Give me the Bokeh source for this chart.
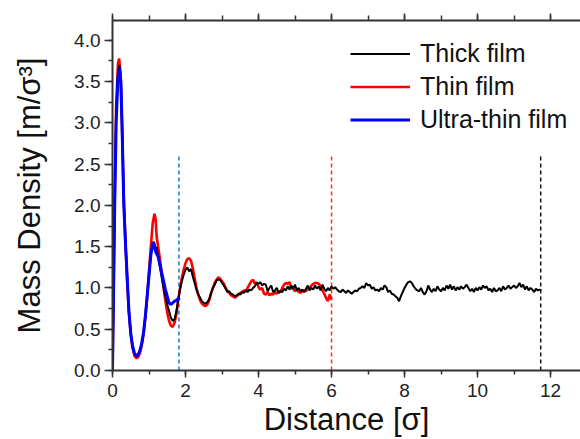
from bokeh.plotting import figure
from bokeh.models import (Range1d, LinearAxis, SingleIntervalTicker, NumeralTickFormatter,
                          Legend, LegendItem, CustomLabelingPolicy)
from bokeh.embed import file_html
from bokeh.resources import INLINE

# ---------------- data ----------------
ultra_x = [0.00, 0.03, 0.06, 0.10, 0.15, 0.19, 0.23, 0.27, 0.31, 0.36, 0.41, 0.45, 0.50, 0.55,
           0.60, 0.65, 0.70, 0.75, 0.80, 0.85, 0.90, 0.95, 1.00, 1.05, 1.10, 1.13, 1.17, 1.20,
           1.25, 1.30, 1.35, 1.40, 1.45, 1.50, 1.55, 1.60, 1.65, 1.70, 1.75, 1.80, 1.85]
ultra_y = [0.0, 1.0, 2.0, 3.0, 3.55, 3.66, 3.5, 2.8, 2.0, 1.5, 1.06, 0.72, 0.45, 0.3,
           0.21, 0.18, 0.19, 0.24, 0.33, 0.46, 0.66, 0.9, 1.15, 1.4, 1.53, 1.55, 1.46, 1.42,
           1.38, 1.28, 1.18, 1.08, 0.98, 0.9, 0.82, 0.80, 0.82, 0.84, 0.85, 0.87, 0.88]

thin_x = [0.00, 0.03, 0.06, 0.10, 0.15, 0.18, 0.22, 0.26, 0.30, 0.35, 0.40, 0.45, 0.50, 0.55,
          0.60, 0.65, 0.70, 0.75, 0.80, 0.85, 0.90, 0.95, 1.00, 1.05, 1.10, 1.15, 1.18, 1.21,
          1.25, 1.30, 1.35, 1.40, 1.45, 1.50, 1.55, 1.60, 1.65, 1.70, 1.75, 1.80, 1.85, 1.90,
          1.95, 2.00, 2.05, 2.10, 2.15, 2.20, 2.25, 2.30, 2.35, 2.40, 2.45, 2.50, 2.55, 2.60,
          2.65, 2.70, 2.75, 2.80, 2.85, 2.90, 2.95, 3.00, 3.05, 3.10, 3.15, 3.20, 3.25, 3.30,
          3.35, 3.40, 3.45, 3.50, 3.55, 3.60, 3.65, 3.70, 3.75, 3.80, 3.85, 3.90, 3.95, 4.00,
          4.05, 4.10, 4.15, 4.20, 4.25, 4.30, 4.35, 4.40, 4.45, 4.50, 4.55, 4.60, 4.65, 4.70,
          4.75, 4.80, 4.85, 4.90, 4.95, 5.00, 5.05, 5.10, 5.15, 5.20, 5.25, 5.30, 5.35, 5.40,
          5.45, 5.50, 5.55, 5.60, 5.65, 5.70, 5.75, 5.80, 5.85, 5.90, 5.95, 6.00]
thin_y = [0.0, 1.0, 2.1, 3.2, 3.72, 3.78, 3.6, 3.0, 2.2, 1.6, 1.1, 0.7, 0.43, 0.27,
          0.18, 0.15, 0.16, 0.21, 0.3, 0.44, 0.64, 0.9, 1.2, 1.5, 1.78, 1.9, 1.84, 1.62,
          1.5, 1.35, 1.18, 1.0, 0.84, 0.7, 0.6, 0.54, 0.53, 0.58, 0.68, 0.85, 1.0, 1.12,
          1.22, 1.3, 1.35, 1.36, 1.33, 1.24, 1.12, 1.0, 0.92, 0.85, 0.81, 0.79, 0.78, 0.8,
          0.85, 0.93, 1.0, 1.06, 1.1, 1.13, 1.11, 1.08, 1.05, 1.0, 0.96, 0.94, 0.91, 0.9,
          0.88, 0.9, 0.92, 0.94, 0.95, 0.97, 0.96, 1.0, 1.04, 1.08, 1.1, 1.05, 1.07, 1.01,
          0.98, 1.0, 0.93, 0.92, 0.95, 0.91, 0.93, 0.92, 0.95, 0.93, 0.96, 0.95, 1.0, 1.04,
          1.06, 1.05, 1.07, 1.0, 0.99, 0.96, 0.98, 0.95, 0.94, 0.96, 0.97, 0.96, 0.99, 1.0,
          1.03, 1.05, 1.06, 1.06, 1.05, 1.02, 0.97, 0.93, 0.88, 0.84, 0.92, 0.86]

thick_x = [0.00, 0.03, 0.06, 0.10, 0.15, 0.19, 0.23, 0.27, 0.31, 0.36, 0.41, 0.45, 0.50, 0.55,
           0.60, 0.65, 0.70, 0.75, 0.80, 0.85, 0.90, 0.95, 1.00, 1.05, 1.10, 1.13, 1.17, 1.20,
           1.25, 1.30, 1.35, 1.40, 1.45, 1.50, 1.55, 1.60, 1.65, 1.70, 1.75, 1.80, 1.85, 1.90,
           1.95, 2.00, 2.05, 2.10, 2.15, 2.20, 2.25, 2.30, 2.35, 2.40, 2.45, 2.50, 2.55, 2.60,
           2.65, 2.70, 2.75, 2.80, 2.85, 2.90, 2.95, 3.00, 3.05, 3.10, 3.15, 3.20, 3.25, 3.30,
           3.35, 3.40, 3.45, 3.50, 3.55, 3.60, 3.65, 3.70, 3.75, 3.80, 3.85, 3.90, 3.95, 4.00,
           4.05, 4.10, 4.15, 4.20, 4.25, 4.30, 4.35, 4.40, 4.45, 4.50, 4.55, 4.60, 4.65, 4.70,
           4.75, 4.80, 4.85, 4.90, 4.95, 5.00, 5.05, 5.10, 5.15, 5.20, 5.25, 5.30, 5.35, 5.40,
           5.45, 5.50, 5.55, 5.60, 5.65, 5.70, 5.75, 5.80, 5.85, 5.90, 5.95, 6.00, 6.05, 6.10,
           6.15, 6.20, 6.25, 6.30, 6.35, 6.40, 6.45, 6.50, 6.55, 6.60, 6.65, 6.70, 6.75, 6.80,
           6.85, 6.90, 6.95, 7.00, 7.05, 7.10, 7.15, 7.20, 7.25, 7.30, 7.35, 7.40, 7.45, 7.50,
           7.55, 7.60, 7.65, 7.70, 7.75, 7.80, 7.85, 7.90, 7.95, 8.00, 8.05, 8.10, 8.15, 8.20,
           8.25, 8.30, 8.35, 8.40, 8.45, 8.50, 8.55, 8.60, 8.65, 8.70, 8.75, 8.80, 8.85, 8.90,
           8.95, 9.00, 9.05, 9.10, 9.15, 9.20, 9.25, 9.30, 9.35, 9.40, 9.45, 9.50, 9.55, 9.60,
           9.65, 9.70, 9.75, 9.80, 9.85, 9.90, 9.95, 10.00, 10.05, 10.10, 10.15, 10.20, 10.25,
           10.30, 10.35, 10.40, 10.45, 10.50, 10.55, 10.60, 10.65, 10.70, 10.75, 10.80, 10.85,
           10.90, 10.95, 11.00, 11.05, 11.10, 11.15, 11.20, 11.25, 11.30, 11.35, 11.40, 11.45,
           11.50, 11.55, 11.60, 11.65, 11.70, 11.75]
thick_y = [0.0, 1.0, 2.05, 3.1, 3.62, 3.70, 3.52, 2.85, 2.05, 1.52, 1.07, 0.72, 0.45, 0.29,
           0.2, 0.17, 0.18, 0.23, 0.32, 0.45, 0.65, 0.9, 1.15, 1.4, 1.54, 1.56, 1.48, 1.5,
           1.38, 1.25, 1.12, 1.0, 0.9, 0.8, 0.72, 0.64, 0.6, 0.62, 0.72, 0.86, 0.98, 1.08,
           1.16, 1.22, 1.25, 1.2, 1.23, 1.14, 1.06, 0.98, 0.92, 0.88, 0.84, 0.82, 0.81, 0.83,
           0.87, 0.94, 1.0, 1.04, 1.09, 1.1, 1.1, 1.06, 1.03, 0.99, 0.95, 0.96, 0.93, 0.92,
           0.9, 0.91, 0.93, 0.92, 0.95, 0.94, 0.97, 0.95, 0.98, 0.97, 1.0, 1.02, 1.06, 1.05,
           1.07, 1.03, 1.05, 1.04, 0.96, 1.0, 1.03, 0.95, 0.97, 1.0, 0.94, 0.96, 0.95, 0.99,
           0.97, 1.02, 0.98, 1.03, 0.99, 1.04, 0.97, 1.0, 0.96, 0.98, 0.95, 0.99, 1.03, 0.97,
           1.0, 0.98, 1.03, 0.99, 1.02, 0.97, 1.04, 0.99, 0.96, 1.0, 0.97, 1.02, 0.99, 1.01,
           0.98, 0.96, 0.95, 0.98, 0.96, 0.94, 0.97, 0.95, 0.93, 0.95, 0.97, 0.96, 0.99, 1.0,
           1.02, 1.0, 1.06, 1.03, 1.04, 0.99, 1.01, 0.97, 0.98, 0.96, 1.0, 0.98, 1.03, 1.01,
           0.95, 0.97, 0.93, 0.92, 0.9, 0.88, 0.84, 0.9, 0.95, 1.0, 1.04, 1.07, 1.08, 1.06,
           1.02, 0.99, 0.97, 0.96, 1.0, 0.95, 0.92, 0.96, 1.03, 0.98, 0.95, 0.99, 0.96, 1.02,
           0.98, 0.96, 1.0, 0.97, 1.03, 0.99, 1.04, 0.98, 1.02, 0.97, 1.01, 0.98, 1.02, 0.99,
           1.01, 1.04, 1.0, 0.96, 0.99, 0.95, 1.0, 0.97, 1.01, 0.98, 1.03, 1.0, 1.02,
           0.97, 0.99, 0.95, 1.0, 0.96, 0.97, 1.0, 0.96, 1.02, 0.98, 1.0, 1.03,
           0.99, 1.01, 1.03, 1.0, 1.02, 1.06, 1.01, 1.04, 0.98, 1.02, 0.97, 1.0,
           0.98, 0.95, 0.99, 0.97, 0.98, 0.97]

series_names = ["Thick film", "Thin film", "Ultra-thin film"]
x_title = "Distance [σ]"
y_title = "Mass Density [m/σ³]"

# film-edge markers (dashed verticals)
edge_x = [1.82, 6.0, 11.73]
edge_top = [2.6, 2.6, 2.6]
edge_colors = ["#1f78c8", "#ff2a2a", "#111111"]

# ---------------- figure ----------------
FONT = "Liberation Sans"
p = figure(width=580, height=439, output_backend="svg", toolbar_location=None,
           x_range=Range1d(0, 12.82), y_range=Range1d(0, 4.24),
           min_border_left=112, min_border_right=0, min_border_top=20, min_border_bottom=69,
           x_axis_label=x_title, y_axis_label=y_title)
p.outline_line_color = None
p.xgrid.visible = False
p.ygrid.visible = False
p.background_fill_color = "white"

AX_COLOR = "#333333"

xax = p.xaxis[0]
xax.ticker = SingleIntervalTicker(interval=2, num_minor_ticks=2)
yax = p.yaxis[0]
yax.ticker = SingleIntervalTicker(interval=0.5, num_minor_ticks=2)
yax.formatter = NumeralTickFormatter(format="0.0")

for ax in (xax, yax):
    ax.axis_line_color = AX_COLOR
    ax.axis_line_width = 2
    ax.major_tick_line_color = AX_COLOR
    ax.minor_tick_line_color = AX_COLOR
    ax.major_tick_line_width = 1.5
    ax.minor_tick_line_width = 1.5
    ax.major_tick_in = 0
    ax.minor_tick_in = 0
    ax.major_tick_out = 7
    ax.minor_tick_out = 4
    ax.major_label_text_font = FONT
    ax.major_label_text_font_size = "19px"
    ax.major_label_text_color = "#222222"
    ax.axis_label_text_font = FONT
    ax.axis_label_text_font_size = "31px"
    ax.axis_label_text_font_style = "normal"
    ax.axis_label_text_color = "#111111"

xax.major_label_standoff = 6
xax.axis_label_standoff = 2
yax.major_tick_out = 8
yax.major_label_standoff = 4
yax.axis_label_standoff = 24

top = LinearAxis(ticker=SingleIntervalTicker(interval=2, num_minor_ticks=2),
                 major_label_policy=CustomLabelingPolicy(code="return []"),
                 major_label_standoff=0,
                 axis_line_color=AX_COLOR, axis_line_width=2,
                 major_tick_line_color=AX_COLOR, minor_tick_line_color=AX_COLOR,
                 major_tick_line_width=1.5, minor_tick_line_width=1.5,
                 major_tick_in=0, minor_tick_in=0, major_tick_out=7, minor_tick_out=5)
p.add_layout(top, "above")

# dashed film edges
p.segment(x0=edge_x, y0=[0, 0, 0], x1=edge_x, y1=edge_top, line_color=edge_colors,
          line_width=1.5, line_dash="4 3")

r_thin = p.line(thin_x, thin_y, line_color="#ff0000", line_width=2.6)
r_thick = p.line(thick_x, thick_y, line_color="#000000", line_width=2)
r_ultra = p.line(ultra_x, ultra_y, line_color="#0000ff", line_width=3)

legend = Legend(items=[LegendItem(label=series_names[0], renderers=[r_thick]),
                       LegendItem(label=series_names[1], renderers=[r_thin]),
                       LegendItem(label=series_names[2], renderers=[r_ultra])],
                location=(238, 234), glyph_width=60, glyph_height=33, label_height=33,
                label_standoff=10, spacing=0, padding=0, margin=0,
                border_line_color=None, background_fill_alpha=0,
                label_text_font=FONT, label_text_font_size="25px",
                label_text_color="#111111")
p.add_layout(legend)

open("out.html", "w").write(file_html(p, INLINE))
